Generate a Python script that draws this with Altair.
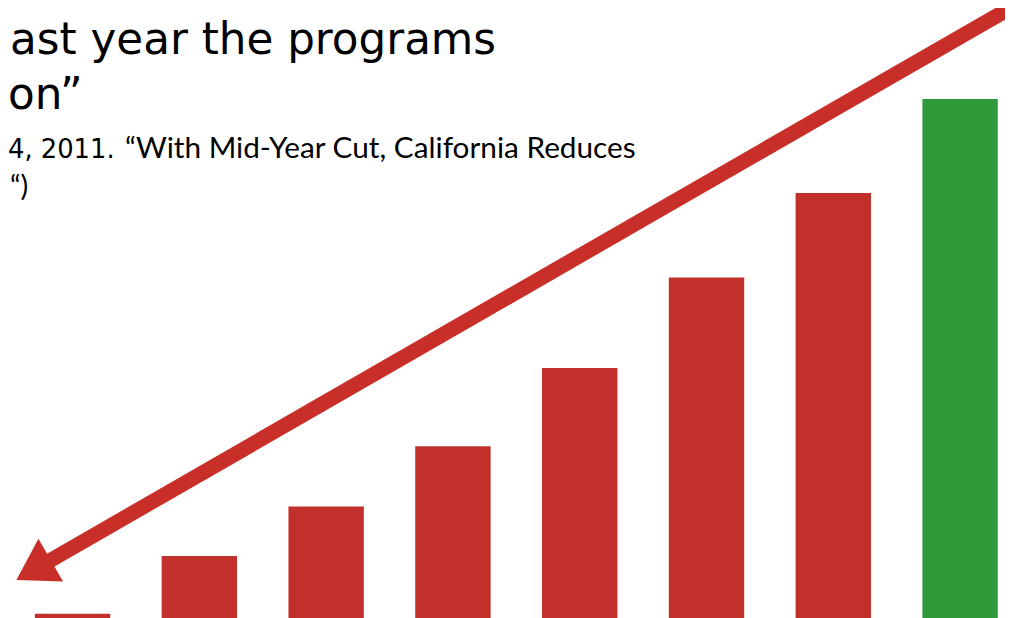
import altair as alt
import pandas as pd

# ---- data ----
bar_index = [0, 1, 2, 3, 4, 5, 6, 7]
bar_values = [3.8, 13.0, 20.9, 30.5, 43.0, 57.4, 70.9, 85.9]
highlight_index = 7

# trend arrow, in the same (bar index, value) units as the bars
arrow_from = (7.396, 100.4)
arrow_to = (-0.443, 9.18)

heading_lines = ["ast year the programs", "on\u201d"]
citation_date = "4, 2011."
citation_title = "\u201cWith Mid-Year Cut, California Reduces"
citation_end = "\u201c)"

# ---- styling ----
RED = "#c1302a"
GREEN = "#2f9a3a"
ARROW = "#c72f28"
W, H = 1005, 632

xscale = alt.Scale(domain=[-0.47, 7.315], nice=False, zero=False)
yscale = alt.Scale(domain=[0, 100], nice=False, zero=False)

bars_df = pd.DataFrame({"idx": bar_index, "value": bar_values})
bars = alt.Chart(bars_df).mark_bar(orient="vertical", size=76).encode(
    x=alt.X("idx:Q", scale=xscale, axis=None),
    y=alt.Y("value:Q", scale=yscale, axis=None),
    color=alt.condition(alt.datum.idx == highlight_index, alt.value(GREEN), alt.value(RED)),
)

f = 0.022  # shaft stops inside the arrow head
shaft_end = (arrow_to[0] + f * (arrow_from[0] - arrow_to[0]),
             arrow_to[1] + f * (arrow_from[1] - arrow_to[1]))
shaft_df = pd.DataFrame({"x": [arrow_from[0]], "y": [arrow_from[1]],
                         "x2": [shaft_end[0]], "y2": [shaft_end[1]]})
shaft = alt.Chart(shaft_df).mark_rule(strokeWidth=15, color=ARROW, strokeCap="butt").encode(
    x=alt.X("x:Q", scale=xscale, axis=None),
    y=alt.Y("y:Q", scale=yscale, axis=None),
    x2="x2:Q",
    y2="y2:Q",
)

head_df = pd.DataFrame({"x": [arrow_to[0]], "y": [arrow_to[1]]})
head = alt.Chart(head_df).mark_point(
    shape="M0,0L1,-0.62L1,0.62Z", size=6400, angle=330, filled=True,
    color=ARROW, opacity=1, strokeWidth=0,
).encode(
    x=alt.X("x:Q", scale=xscale, axis=None),
    y=alt.Y("y:Q", scale=yscale, axis=None),
)


def text_layer(s, px, py, font, size, align):
    return alt.Chart(pd.DataFrame({"t": [s]})).mark_text(
        font=font, fontSize=size, align=align, baseline="alphabetic", color="black",
    ).encode(text="t:N", x=alt.value(px), y=alt.value(py))


texts = [
    text_layer(heading_lines[0], 492, 44, "DejaVu Sans", 44, "right"),
    text_layer(heading_lines[1], 0, 99, "DejaVu Sans", 44, "left"),
    text_layer(citation_date, 0, 149, "DejaVu Sans", 26, "left"),
    text_layer(citation_title, 118, 149, "Lato", 30, "left"),
    text_layer(citation_end, 2, 187, "Lato", 29, "left"),
]

chart = alt.layer(bars, shaft, head, *texts).properties(
    width=W, height=H, autosize=alt.AutoSizeParams(type="none"), padding=0,
).configure(background="white").configure_view(stroke=None)

chart.save("out.html", embed_options={"renderer": "svg", "actions": False})
